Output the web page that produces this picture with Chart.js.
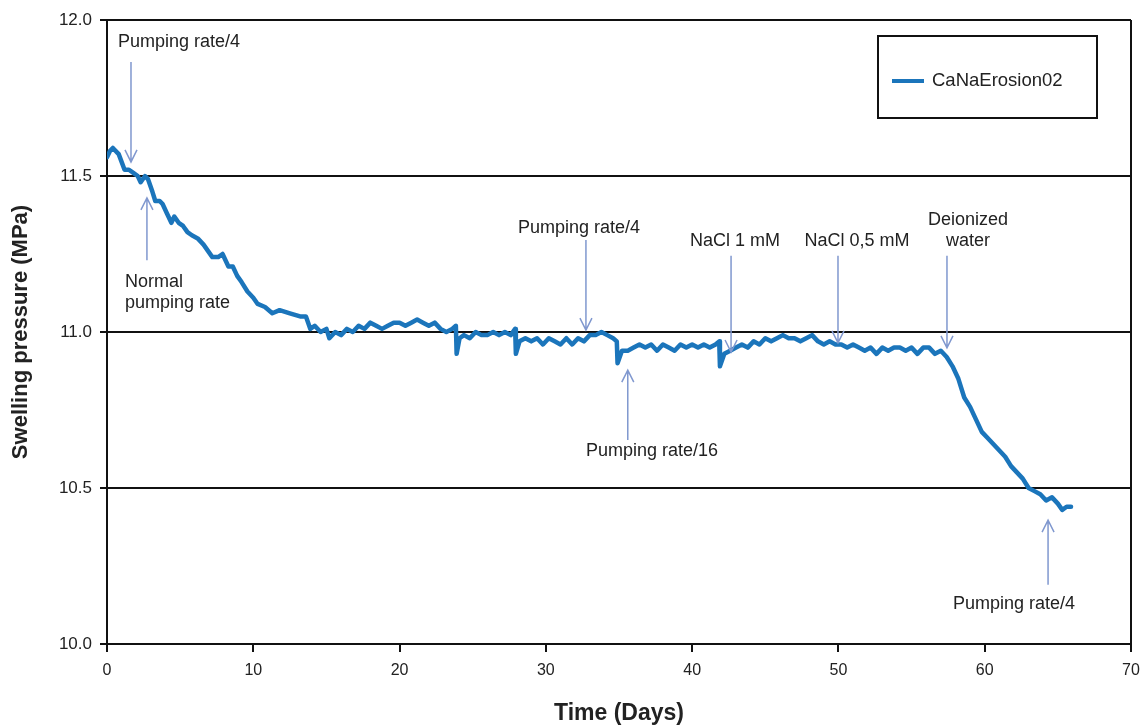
<!DOCTYPE html>
<html>
<head>
<meta charset="utf-8">
<script src="https://cdn.jsdelivr.net/npm/chart.js@4/dist/chart.umd.min.js"></script>
<style>
  html, body { margin: 0; padding: 0; background: #fff; }
  #wrap { width: 1144px; height: 726px; }
</style>
</head>
<body>
<div id="wrap"><canvas id="chart" width="1144" height="726"></canvas></div>
<script>
// time in days
const days = [
  0, 0.2, 0.4, 0.8, 1.2, 1.5, 1.8, 2.1, 2.3, 2.6, 2.8, 3.1, 3.3, 3.6, 3.8, 4.1, 4.4, 4.6, 4.9, 5.2,
  5.5, 5.8, 6.2, 6.6, 6.9, 7.2, 7.6, 7.9, 8.3, 8.6, 8.9, 9.2, 9.6, 10.0, 10.3, 10.8, 11.3, 11.8, 12.5, 13.2,
  13.6, 13.9, 14.2, 14.6, 15.0, 15.2, 15.6, 16.0, 16.4, 16.8, 17.2, 17.6, 18.0, 18.4, 18.8, 19.2, 19.6, 20.0, 20.4, 20.8,
  21.2, 21.6, 22.0, 22.4, 22.8, 23.2, 23.6, 23.85, 23.9, 24.1, 24.4, 24.8, 25.2, 25.6, 26.0, 26.4, 26.8, 27.2, 27.6, 27.9,
  27.95, 28.2, 28.6, 29.0, 29.4, 29.8, 30.2, 30.6, 31.0, 31.4, 31.8, 32.2, 32.6, 33.0, 33.4, 33.8, 34.2, 34.6, 34.85, 34.9,
  35.2, 35.6, 36.0, 36.4, 36.8, 37.2, 37.6, 38.0, 38.4, 38.8, 39.2, 39.6, 40.0, 40.4, 40.8, 41.2, 41.6, 41.85, 41.9, 42.2,
  42.6, 43.0, 43.4, 43.8, 44.2, 44.6, 45.0, 45.4, 45.8, 46.2, 46.6, 47.0, 47.4, 47.8, 48.2, 48.6, 49.0, 49.4, 49.8, 50.2,
  50.6, 51.0, 51.4, 51.8, 52.2, 52.6, 53.0, 53.4, 53.8, 54.2, 54.6, 55.0, 55.4, 55.8, 56.2, 56.6, 57.0, 57.4, 57.8, 58.2,
  58.6, 59.0, 59.4, 59.8, 60.2, 60.6, 61.0, 61.4, 61.8, 62.2, 62.6, 63.0, 63.4, 63.8, 64.2, 64.6, 65.0, 65.3, 65.6, 65.9
];

// swelling pressure in MPa
const pressure = [
  11.56, 11.58, 11.59, 11.57, 11.52, 11.52, 11.51, 11.50, 11.48, 11.50, 11.49, 11.45, 11.42, 11.42, 11.41, 11.38, 11.35, 11.37, 11.35, 11.34,
  11.32, 11.31, 11.30, 11.28, 11.26, 11.24, 11.24, 11.25, 11.21, 11.21, 11.18, 11.16, 11.13, 11.11, 11.09, 11.08, 11.06, 11.07, 11.06, 11.05,
  11.05, 11.01, 11.02, 11.00, 11.01, 10.98, 11.00, 10.99, 11.01, 11.00, 11.02, 11.01, 11.03, 11.02, 11.01, 11.02, 11.03, 11.03, 11.02, 11.03,
  11.04, 11.03, 11.02, 11.03, 11.01, 11.00, 11.01, 11.02, 10.93, 10.98, 10.99, 10.98, 11.00, 10.99, 10.99, 11.00, 10.99, 11.00, 10.99, 11.01,
  10.93, 10.97, 10.98, 10.97, 10.98, 10.96, 10.98, 10.97, 10.96, 10.98, 10.96, 10.98, 10.97, 10.99, 10.99, 11.00, 10.99, 10.98, 10.97, 10.90,
  10.94, 10.94, 10.95, 10.96, 10.95, 10.96, 10.94, 10.96, 10.95, 10.94, 10.96, 10.95, 10.96, 10.95, 10.96, 10.95, 10.96, 10.97, 10.89, 10.93,
  10.94, 10.95, 10.96, 10.95, 10.97, 10.96, 10.98, 10.97, 10.98, 10.99, 10.98, 10.98, 10.97, 10.98, 10.99, 10.97, 10.96, 10.97, 10.96, 10.96,
  10.95, 10.96, 10.95, 10.94, 10.95, 10.93, 10.95, 10.94, 10.95, 10.95, 10.94, 10.95, 10.93, 10.95, 10.95, 10.93, 10.94, 10.92, 10.89, 10.85,
  10.79, 10.76, 10.72, 10.68, 10.66, 10.64, 10.62, 10.60, 10.57, 10.55, 10.53, 10.50, 10.49, 10.48, 10.46, 10.47, 10.45, 10.43, 10.44, 10.44
];

const xTicks = [0, 10, 20, 30, 40, 50, 60, 70];
const yTicks = [10.0, 10.5, 11.0, 11.5, 12.0];

// annotations: text lines, text anchor (day, MPa), arrow x (day), arrow tail and head (MPa)
const noteText = [
  ["Pumping rate/4"],
  ["Normal", "pumping rate"],
  ["Pumping rate/4"],
  ["Pumping rate/16"],
  ["NaCl 1 mM"],
  ["NaCl 0,5 mM"],
  ["Deionized", "water"],
  ["Pumping rate/4"]
];
const noteAlign = ["left", "left", "center", "center", "center", "center", "center", "center"];
const noteX = [0.75, 1.23, 32.27, 37.26, 42.93, 51.27, 58.86, 62.0];
const noteY = [11.93, 11.16, 11.333, 10.62, 11.29, 11.29, 11.36, 10.128];
const arrowX = [1.64, 2.73, 32.74, 35.6, 42.66, 49.97, 57.42, 64.33];
const arrowFrom = [11.865, 11.23, 11.295, 10.654, 11.244, 11.244, 11.244, 10.19];
const arrowTo = [11.545, 11.43, 11.006, 10.878, 10.936, 10.965, 10.949, 10.397];

const lineColor = "#1b75bb";
const arrowColor = "#8098cf";
const fontFam = "'Liberation Sans', Arial, sans-serif";

const points = days.map((d, i) => ({ x: d, y: pressure[i] }));

const extras = {
  id: "extras",
  afterDraw(chart) {
    const { ctx, chartArea, scales } = chart;
    const xs = scales.x, ys = scales.y;
    ctx.save();
    // right frame
    ctx.strokeStyle = "#111";
    ctx.lineWidth = 2;
    ctx.beginPath();
    ctx.moveTo(chartArea.right, chartArea.top);
    ctx.lineTo(chartArea.right, chartArea.bottom);
    ctx.stroke();

    // arrows
    ctx.strokeStyle = arrowColor;
    ctx.lineWidth = 1.5;
    for (let i = 0; i < arrowX.length; i++) {
      const px = xs.getPixelForValue(arrowX[i]);
      const y0 = ys.getPixelForValue(arrowFrom[i]);
      const y1 = ys.getPixelForValue(arrowTo[i]);
      const dir = y1 > y0 ? 1 : -1;
      ctx.beginPath();
      ctx.moveTo(px, y0);
      ctx.lineTo(px, y1);
      ctx.moveTo(px - 6, y1 - dir * 12);
      ctx.lineTo(px, y1);
      ctx.lineTo(px + 6, y1 - dir * 12);
      ctx.stroke();
    }

    // notes
    ctx.fillStyle = "#222";
    ctx.font = "18px " + fontFam;
    ctx.textBaseline = "middle";
    for (let i = 0; i < noteText.length; i++) {
      ctx.textAlign = noteAlign[i];
      const px = xs.getPixelForValue(noteX[i]);
      const py = ys.getPixelForValue(noteY[i]);
      noteText[i].forEach((t, k) => ctx.fillText(t, px, py + k * 21));
    }

    // legend box
    const bx = chartArea.right - 253, by = chartArea.top + 16;
    ctx.strokeStyle = "#111";
    ctx.lineWidth = 2;
    ctx.strokeRect(bx, by, 219, 82);
    ctx.strokeStyle = lineColor;
    ctx.lineWidth = 4;
    ctx.beginPath();
    ctx.moveTo(bx + 14, by + 45);
    ctx.lineTo(bx + 46, by + 45);
    ctx.stroke();
    ctx.fillStyle = "#222";
    ctx.textAlign = "left";
    ctx.font = "18.5px " + fontFam;
    ctx.fillText(chart.data.datasets[0].label, bx + 54, by + 45);
    ctx.restore();
  }
};

new Chart(document.getElementById("chart"), {
  type: "scatter",
  data: {
    datasets: [{
      label: "CaNaErosion02",
      data: points,
      showLine: true,
      borderColor: lineColor,
      borderWidth: 4.5,
      borderJoinStyle: "round",
      borderCapStyle: "round",
      pointRadius: 0,
      tension: 0
    }]
  },
  options: {
    responsive: false,
    animation: false,
    layout: { padding: { top: 20, right: 13, left: 0, bottom: 0 } },
    plugins: { legend: { display: false }, tooltip: { enabled: false } },
    scales: {
      x: {
        type: "linear",
        min: 0, max: 70,
        afterBuildTicks: (s) => { s.ticks = xTicks.map(v => ({ value: v })); },
        afterFit: (s) => { s.height = 82; s.paddingLeft = 0; s.paddingRight = 0; },
        border: { color: "#111", width: 2 },
        grid: { drawOnChartArea: false, color: "#111", lineWidth: 2, tickLength: 8 },
        ticks: { color: "#222", font: { family: fontFam, size: 16 }, padding: 9 },
        title: {
          display: true, text: "Time (Days)", color: "#222",
          font: { family: fontFam, size: 23, weight: "bold" },
          padding: { top: 14, bottom: -1 }
        }
      },
      y: {
        min: 10, max: 12,
        afterBuildTicks: (s) => { s.ticks = yTicks.map(v => ({ value: v })); },
        afterFit: (s) => { s.width = 107; s.paddingTop = 0; s.paddingBottom = 0; },
        border: { color: "#111", width: 2 },
        grid: { color: "#111", lineWidth: 2, tickLength: 7 },
        ticks: {
          color: "#222", font: { family: fontFam, size: 17 }, padding: 8,
          callback: (v) => v.toFixed(1)
        },
        title: {
          display: true, text: "Swelling pressure (MPa)", color: "#222",
          font: { family: fontFam, size: 22, weight: "bold" },
          padding: { bottom: 0, top: 8 }
        }
      }
    }
  },
  plugins: [extras]
});
</script>
</body>
</html>
